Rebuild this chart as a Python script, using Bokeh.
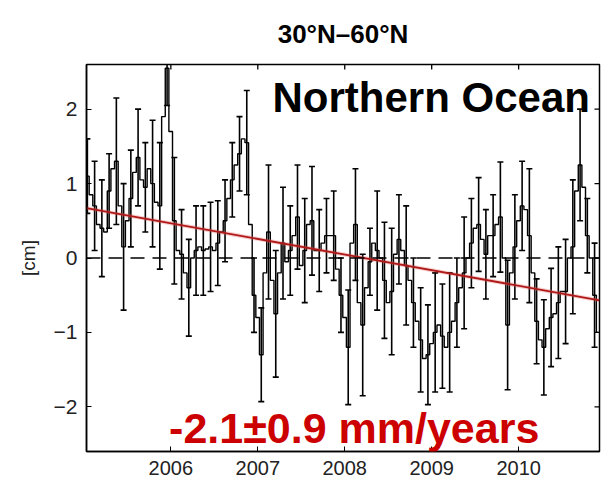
import numpy as np
from bokeh.plotting import figure
from bokeh.models import (ColumnDataSource, Whisker, TeeHead, Span, Label,
                          FixedTicker, Range1d)
from bokeh.embed import file_html
from bokeh.resources import INLINE

# ---------------- data ----------------
start_year = 2005.04
step_year = 1.0 / 24.0

sla_cm = [
    1.1, 0.85, 0.7, 0.45, 0.4, 0.35, 0.9, 1.2, 1.3, 0.7,
    0.15, 0.5, 0.8, 1.15, 1.35, 1.05, 0.95, 1.2, 1.0, 0.75,
    0.7, 1.9, 2.55, 1.7, 0.5, 0.1, 0.05, -0.2, -0.4, 0.0,
    0.1, 0.15, 0.1, 0.12, 0.15, 0.1, 0.2, 0.35, 0.5, 0.8,
    1.05, 1.25, 1.4, 1.6, 1.55, 0.45, -0.5, -0.8, -1.3, -0.2,
    0.35, -0.3, -0.75, -0.2, 0.2, -0.05, 0.1, 0.3, 0.55, -0.1,
    0.1, 0.45, 0.5, 0.1, 0.1, 0.2, 0.3, 0.3, 0.3, -0.15,
    -0.5, -0.8, -1.2, 0.2, 0.45, -0.6, -0.9, -0.4, -0.05, 0.2,
    0.1, 0.0, -0.3, -0.6, -0.45, 0.05, 0.25, 0.1, -0.1, -0.3,
    -0.6, -0.85, -1.1, -1.35, -1.3, -1.15, -1.0, -0.9, -1.05, -1.2,
    -1.0, -0.85, -0.6, -0.4, -0.2, 0.0, 0.2, 0.4, 0.45, 0.25,
    0.05, 0.3, 0.3, 0.45, 0.55, 0.0, -0.9, -0.2, 0.15, 0.5,
    0.7, 0.65, 0.3, -0.2, -0.85, -1.1, -1.2, -0.95, -0.8, -0.75,
    -0.6, -0.45, -0.45, 0.0, 0.15, 0.9, 1.25, 0.95, 0.3, 0.0,
    -0.5, -1.0,
]

# uncertainty for every second sample
sigma_cm = [
    0.5, 0.6, 0.65, 0.5, 0.85, 0.85, 0.65, 0.65, 0.6, 0.85,
    0.85, 0.5, 0.85, 0.6, 0.65, 0.6, 0.6, 0.6,
    0.57, 0.55, 0.5, 0.5, 0.7, 0.5, 0.63, 0.9, 0.85, 0.75,
    0.6, 0.7, 0.7, 0.73, 0.55, 0.5, 0.6, 0.5,
    0.77, 0.75, 0.95, 0.45, 0.8, 0.78, 0.85, 0.6, 0.8, 0.6,
    0.7, 0.67, 0.8, 0.7, 0.8, 0.6, 0.75,
    0.6, 0.63, 0.6, 0.55, 0.74, 0.87, 0.7, 0.6, 0.9, 0.57,
    0.64, 0.66, 0.75, 0.7, 0.9, 0.75, 0.5, 0.7,
]

trend_start_cm = 0.67
trend_rate_mm_per_year = -2.1

x_ticks = [2006, 2007, 2008, 2009, 2010]
x_tick_labels = ["2006", "2007", "2008", "2009", "2010"]
y_ticks = [-2, -1, 0, 1, 2]
y_tick_labels = ["\u22122", "\u22121", "0", "1", "2"]

title_text = "30\u00b0N\u201360\u00b0N"
region_text = "Northern Ocean"
trend_text = "-2.1\u00b10.9 mm/years"
y_label = "[cm]"

x_start, x_end = 2005.03, 2010.93
y_start, y_end = -2.6, 2.6

# ---------------- figure ----------------
W, H = 601, 487
B_LEFT, B_RIGHT, B_TOP, B_BOTTOM = 86, 2, 62, 36
FRAME_W = W - B_LEFT - B_RIGHT
FRAME_H = H - B_TOP - B_BOTTOM

t = start_year + step_year * np.arange(len(sla_cm))
sla = np.array(sla_cm)

p = figure(width=W, height=H,
           x_range=Range1d(x_start, x_end), y_range=Range1d(y_start, y_end),
           output_backend="svg", toolbar_location=None,
           min_border_left=B_LEFT, min_border_right=B_RIGHT,
           min_border_top=B_TOP, min_border_bottom=B_BOTTOM)

p.background_fill_color = "white"
p.border_fill_color = "white"
p.outline_line_color = "black"
p.outline_line_width = 1.5
p.xgrid.visible = False
p.ygrid.visible = False

tick_font = "Liberation Sans"

p.title.text = title_text
p.title.align = "center"
p.title.text_font = tick_font
p.title.text_font_size = "26px"
p.title.text_font_style = "bold"
p.title.text_color = "black"
p.title.standoff = 32

# bottom axis
xa = p.xaxis[0]
xa.ticker = FixedTicker(ticks=x_ticks)
xa.major_label_overrides = {v: s for v, s in zip(x_ticks, x_tick_labels)}
xa.major_tick_in = 5
xa.major_tick_out = 0
xa.minor_tick_in = 0
xa.minor_tick_out = 0
xa.major_label_standoff = 9
xa.major_label_text_font = tick_font
xa.major_label_text_font_size = "20px"
xa.major_label_text_color = "#222222"
xa.axis_line_color = "black"
xa.axis_line_width = 1.5

# left axis
ya = p.yaxis[0]
ya.ticker = FixedTicker(ticks=y_ticks)
ya.major_label_overrides = {v: s for v, s in zip(y_ticks, y_tick_labels)}
ya.major_tick_in = 5
ya.major_tick_out = 0
ya.minor_tick_in = 0
ya.minor_tick_out = 0
ya.major_label_standoff = 9
ya.major_label_text_font = tick_font
ya.major_label_text_font_size = "21px"
ya.major_label_text_color = "#222222"
ya.axis_label = y_label
ya.axis_label_text_font = tick_font
ya.axis_label_text_font_size = "19px"
ya.axis_label_text_font_style = "normal"
ya.axis_label_text_color = "#222222"
ya.axis_label_standoff = 12
ya.axis_line_color = "black"
ya.axis_line_width = 1.5

# tick marks on the top and right edges (inward, 5 px)
tick_len_x = 5.0 * (x_end - x_start) / FRAME_W
tick_len_y = 5.0 * (y_end - y_start) / FRAME_H
xt = np.array(x_ticks, dtype=float)
yt = np.array(y_ticks, dtype=float)
p.segment(x0=xt, y0=np.full(len(xt), y_end), x1=xt, y1=np.full(len(xt), y_end - tick_len_y),
          line_color="black", line_width=1.3)
p.segment(x0=np.full(len(yt), x_end), y0=yt, x1=np.full(len(yt), x_end - tick_len_x), y1=yt,
          line_color="black", line_width=1.3)

# zero line
p.add_layout(Span(location=0, dimension="width", line_color="black",
                  line_width=1.3, line_dash="14 8"))

# error bars (every second sample)
tb = t[::2]
yb = sla[::2]
sig = np.array(sigma_cm)
err_src = ColumnDataSource(dict(base=tb, upper=yb + sig, lower=yb - sig))
p.add_layout(Whisker(base="base", upper="upper", lower="lower", source=err_src,
                     line_color="black", line_width=1.6,
                     upper_head=TeeHead(size=6, line_width=1.6, line_color="black"),
                     lower_head=TeeHead(size=6, line_width=1.6, line_color="black")))

# series as steps
p.step(t, sla, mode="center", line_color="black", line_width=1.4)

# trend line
tx = np.array([x_start, x_end])
ty = trend_start_cm + trend_rate_mm_per_year / 10.0 * (tx - x_start)
p.line(tx, ty, line_color="#e06060", line_width=4, line_alpha=0.3)
p.line(tx, ty, line_color="#b01818", line_width=1.8)

# annotations
p.add_layout(Label(x=2010.82, y=2.15, text=region_text, text_align="right",
                   text_baseline="alphabetic", text_font=tick_font,
                   text_font_size="42px", text_font_style="bold",
                   text_color="black"))
p.add_layout(Label(x=2005.98, y=-2.29, text=trend_text, text_align="left",
                   text_baseline="alphabetic", text_font=tick_font,
                   text_font_size="43px", text_font_style="bold",
                   text_color="#cc0000"))

open("out.html", "w").write(file_html(p, INLINE))
